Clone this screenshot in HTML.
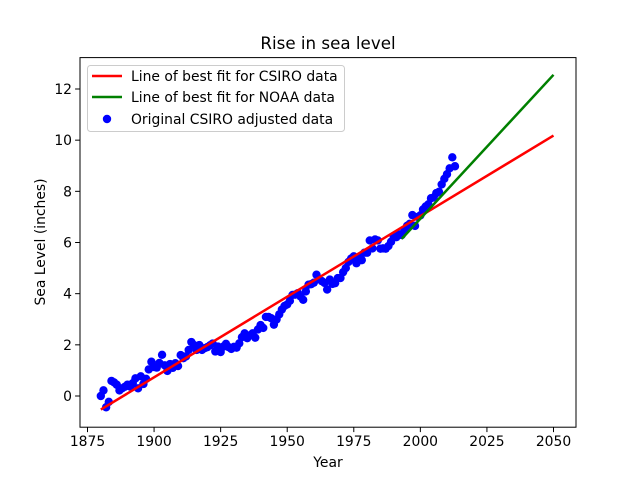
<!DOCTYPE html>
<html><head><meta charset="utf-8"><style>
html,body{margin:0;padding:0;background:#fff;}
svg{display:block;font-family:"DejaVu Sans","Liberation Sans",sans-serif;}
</style></head><body>
<svg id="chart" width="640" height="480" viewBox="0 0 640 480">
<rect x="0" y="0" width="640" height="480" fill="#fff"/>
<text x="328" y="49" font-size="16.7" text-anchor="middle">Rise in sea level</text>
<g id="plot"></g>
<g id="axes"></g>
<text x="328" y="467" font-size="13.9" text-anchor="middle">Year</text>
<text transform="translate(45,242) rotate(-90)" font-size="13.9" text-anchor="middle">Sea Level (inches)</text>
<g>
<rect x="87.5" y="65.5" width="257" height="66" rx="3" fill="#fff" fill-opacity="0.8" stroke="#ccc"/>
<line x1="92" y1="76" x2="122" y2="76" stroke="red" stroke-width="2.5"/>
<text x="131" y="81" font-size="13.9">Line of best fit for CSIRO data</text>
<line x1="92" y1="97" x2="122" y2="97" stroke="green" stroke-width="2.5"/>
<text x="131" y="102" font-size="13.9">Line of best fit for NOAA data</text>
<circle cx="107" cy="119" r="4.2" fill="blue"/>
<text x="131" y="124" font-size="13.9">Original CSIRO adjusted data</text>
</g>
</svg>
<script>
const years = [];
for (let y = 1880; y <= 2013; y++) years.push(y);
const seaLevel = [0.00,0.22,-0.44,-0.23,0.59,0.53,0.44,0.22,0.30,0.36,0.44,0.37,0.50,0.69,0.30,0.77,0.47,0.67,1.04,1.34,1.13,1.11,1.29,1.61,1.20,0.98,1.25,1.10,1.28,1.17,1.60,1.48,1.55,1.80,2.11,1.99,1.80,1.99,1.80,1.87,1.91,1.98,2.05,1.74,1.93,1.72,1.93,2.04,1.91,1.84,1.92,1.89,2.06,2.30,2.45,2.26,2.37,2.45,2.28,2.60,2.77,2.66,3.09,3.09,3.04,2.79,2.99,3.19,3.38,3.52,3.58,3.72,3.95,3.96,4.02,3.89,3.76,4.09,4.35,4.37,4.43,4.74,4.56,4.49,4.42,4.16,4.55,4.38,4.41,4.61,4.61,4.84,5.00,5.24,5.37,5.46,5.19,5.44,5.31,5.60,5.60,6.08,5.77,6.12,6.08,5.76,5.77,5.76,5.86,6.03,6.23,6.21,6.32,6.29,6.45,6.65,6.73,7.07,6.65,7.00,7.06,7.29,7.41,7.49,7.73,7.76,7.93,7.98,8.27,8.49,8.67,8.90,9.33,8.98];
const csiroFitYears = [1880, 2050];
const csiroFitParams = [0.0630, -118.97];
const noaaFitYears = [1993, 2050];
const noaaFitParams = [0.1125, -218.07];
const xTicks = [1875,1900,1925,1950,1975,2000,2025,2050];
const yTicks = [0,2,4,6,8,10,12];

const AX = {l:80, r:576, t:57.6, b:427.2};
function xs(v){ return 87.5 + (v - 1875) * (466 / 175); }
function ys(v){ return 396 - v * (307 / 12); }
const NS = "http://www.w3.org/2000/svg";
function mk(tag, attrs, parent){ const e = document.createElementNS(NS, tag); for (const k in attrs) e.setAttribute(k, attrs[k]); parent.appendChild(e); return e; }
const plot = document.getElementById('plot');
const axes = document.getElementById('axes');

years.forEach((yr, i) => {
  const c = mk('circle', {cx: xs(yr), cy: ys(seaLevel[i]), r: 4.2, fill: 'blue'}, plot);
  
  
});
function fitLine(yrs, p, color, name){
  const l = mk('line', {x1: xs(yrs[0]), y1: ys(p[0]*yrs[0]+p[1]), x2: xs(yrs[1]), y2: ys(p[0]*yrs[1]+p[1]), stroke: color, 'stroke-width': 2.5}, plot);
  
  
}
fitLine(csiroFitYears, csiroFitParams, 'red', 'csiro-fit-line');
fitLine(noaaFitYears, noaaFitParams, 'green', 'noaa-fit-line');

const frame = mk('rect', {x: AX.l, y: AX.t, width: AX.r-AX.l, height: AX.b-AX.t, fill: 'none', stroke: '#000', 'stroke-width': 1}, axes);


xTicks.forEach(t => {
  const x = xs(t);
  const tk = mk('line', {x1: x, y1: AX.b, x2: x, y2: AX.b+4.9, stroke: '#000', 'stroke-width': 1}, axes);
  
  
  const tx = mk('text', {x: x, y: AX.b+19, 'font-size': 13.9, 'text-anchor': 'middle'}, axes);
  tx.textContent = t;
  
  
});
yTicks.forEach(t => {
  const y = ys(t);
  const tk = mk('line', {x1: AX.l-4.9, y1: y, x2: AX.l, y2: y, stroke: '#000', 'stroke-width': 1}, axes);
  
  
  const tx = mk('text', {x: AX.l-8, y: y+5, 'font-size': 13.9, 'text-anchor': 'end'}, axes);
  tx.textContent = t;
  
  
});
</script>
</body></html>
